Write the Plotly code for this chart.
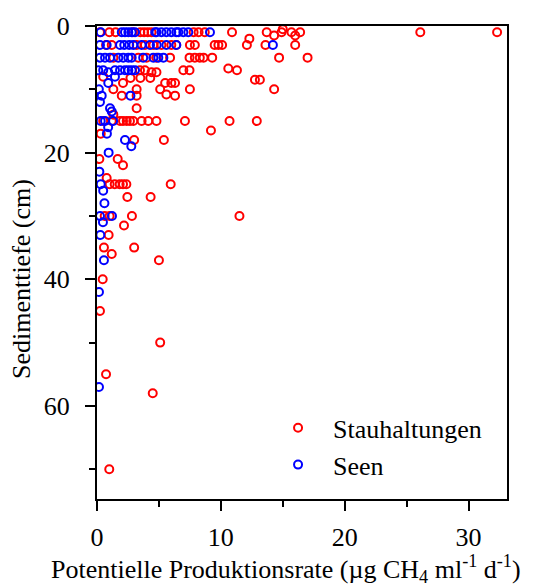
import plotly.graph_objects as go

# Stauhaltungen (impoundments): potential production rate vs. sediment depth
stau_rate = [
    0.24, 1.0, 1.5, 2.9, 3.5, 3.8, 4.1, 4.4, 7.8, 8.2, 8.7, 10.9, 13.7, 14.9, 15.7, 16.4, 26.1, 32.3,
    15.0, 12.3, 14.3, 16.0,
    0.73, 1.19, 3.2, 3.87, 4.55, 5.2, 6.0, 6.4, 7.5, 7.9, 9.5, 9.8, 10.1, 12.1, 13.6, 16.0,
    1.32, 3.33, 4.0, 4.8, 5.9, 7.47, 7.9, 8.3, 8.6, 9.3, 14.7, 17.0,
    3.47, 3.87, 4.4, 4.8, 6.97, 7.47, 11.3, 10.6,
    0.5, 2.7, 3.5, 4.3, 12.75, 13.15,
    2.1, 5.5, 6.0, 6.3,
    1.32, 3.2, 5.1, 7.5, 14.3,
    2.0, 3.2, 5.6, 6.3,
    3.2, 1.32,
    0.5, 1.19, 1.86, 2.1, 2.4, 2.66, 2.93, 3.6, 4.14, 4.8, 7.1, 10.7, 12.9,
    9.2, 0.3, 3.0, 5.4,
    0.19, 1.67, 2.1, 0.78,
    1.02, 1.43, 1.83, 2.1, 2.37, 5.95,
    2.45, 4.33,
    0.62, 1.02, 2.82, 11.5,
    2.18, 0.94,
    0.56, 3.0, 1.19, 5.0,
    0.46, 0.24, 5.1, 0.73, 4.5, 0.99,
]
stau_depth = [
    1, 1, 1, 1, 1, 1, 1, 1, 1, 1, 1, 1, 1, 1, 1, 1, 1, 1,
    0.5, 2, 1.5, 1.5,
    3, 3, 3, 3, 3, 3, 3, 3, 3, 3, 3, 3, 3, 3, 3, 3,
    5, 5, 5, 5, 5, 5, 5, 5, 5, 5, 5, 5,
    7, 7, 7.3, 7.3, 7, 7, 7, 6.7,
    8, 8.2, 8.2, 8.2, 8.5, 8.5,
    9, 9, 9, 9,
    10, 10, 10, 10, 10,
    11, 11, 10.8, 11,
    13, 14,
    15, 15, 15, 15, 15, 15, 15, 15, 15, 15, 15, 15, 15,
    16.5, 17, 18, 18,
    21, 21, 22, 24,
    25, 25, 25, 25, 25, 25,
    27, 27,
    30, 30, 30, 30,
    31.5, 33,
    35, 35, 36, 37,
    40, 45, 50, 55, 58, 70,
]

# Seen (lakes)
seen_rate = [
    0.3, 2.0, 2.26, 2.53, 2.8, 3.07, 4.7, 4.8, 5.2, 5.6, 6.0, 6.4, 6.56, 6.97, 7.37, 9.12,
    0.24, 0.78, 1.86, 2.2, 2.6, 2.93, 3.6, 4.28, 4.82, 5.6, 6.4, 14.2,
    0.24, 0.65, 1.05, 1.72, 2.12, 2.53, 2.8, 3.73, 4.55, 4.95, 5.36,
    0.1, 0.5, 0.91, 1.45, 1.86, 2.26, 2.53, 2.8, 3.07,
    1.45, 0.91, 0.15,
    0.38, 2.7, 0.24, 1.05, 1.19,
    0.3, 0.65, 1.3,
    0.9, 0.8, 2.26, 2.77, 0.94,
    0.19, 0.3, 0.5, 0.6, 0.24, 1.21, 0.48, 0.27,
    0.56, 0.16, 0.16,
]
seen_depth = [
    1, 1, 1, 1, 1, 1, 1, 1, 1, 1, 1, 1, 1, 1, 1, 1,
    3, 3, 3, 3, 3, 3, 3, 3, 3, 3, 3, 3,
    5, 5, 5, 5, 5, 5, 5, 5, 5, 5, 5,
    7, 7, 7.3, 7, 7, 7, 7, 7, 7,
    8, 9, 10,
    11, 11, 12, 13, 13.5,
    15, 15, 15,
    16, 17, 18, 19, 20,
    23, 25, 26, 28, 30, 30, 31, 33,
    37, 42, 57,
]

FONT = "Liberation Serif, Times New Roman, serif"
RED = "#ff0000"
BLUE = "#0000ff"

fig = go.Figure()
fig.add_trace(go.Scatter(
    x=stau_rate, y=stau_depth, mode="markers", name="Stauhaltungen",
    marker=dict(symbol="circle-open", size=8, color=RED, line=dict(width=2, color=RED)),
))
fig.add_trace(go.Scatter(
    x=seen_rate, y=seen_depth, mode="markers", name="Seen",
    marker=dict(symbol="circle-open", size=8, color=BLUE, line=dict(width=2, color=BLUE)),
))

axis_common = dict(
    showline=True, linecolor="black", linewidth=2, mirror=True,
    showgrid=False, zeroline=False,
    ticks="outside", ticklen=10, tickwidth=2, tickcolor="black",
    tickfont=dict(family=FONT, size=26, color="black"),
)

fig.update_xaxes(
    range=[0, 33.1], tick0=0, dtick=10, ticklabelstandoff=4,
    minor=dict(ticks="outside", ticklen=6, tickwidth=2, tickcolor="black", dtick=5, tick0=0),
    **axis_common,
)
fig.update_yaxes(
    range=[74.7, 0], tick0=0, dtick=20, ticklabelstandoff=10,
    minor=dict(ticks="outside", ticklen=6, tickwidth=2, tickcolor="black", dtick=10, tick0=0),
    **axis_common,
)

# Axis titles
fig.add_annotation(
    text="Potentielle Produktionsrate (µg CH<sub>4</sub> ml<sup>-1</sup> d<sup>-1</sup>)",
    xref="paper", yref="paper", x=0.461, y=0, xanchor="center", yanchor="middle",
    yshift=-70, showarrow=False, font=dict(family=FONT, size=26, color="black"),
)
fig.add_annotation(
    text="Sedimenttiefe (cm)", textangle=-90,
    xref="paper", yref="paper", x=0, y=0.465, xanchor="center", yanchor="middle",
    xshift=-76, showarrow=False, font=dict(family=FONT, size=26, color="black"),
)

fig.update_layout(
    width=536, height=586,
    margin=dict(l=97, r=29, t=16, b=87, pad=0),
    paper_bgcolor="white", plot_bgcolor="white",
    showlegend=True,
    legend=dict(
        x=0.405, y=0.2, xanchor="left", yanchor="top",
        bgcolor="rgba(0,0,0,0)", borderwidth=0,
        font=dict(family=FONT, size=26, color="black"),
        itemwidth=60, tracegroupgap=0,
    ),
)

fig.write_html("out.html")
